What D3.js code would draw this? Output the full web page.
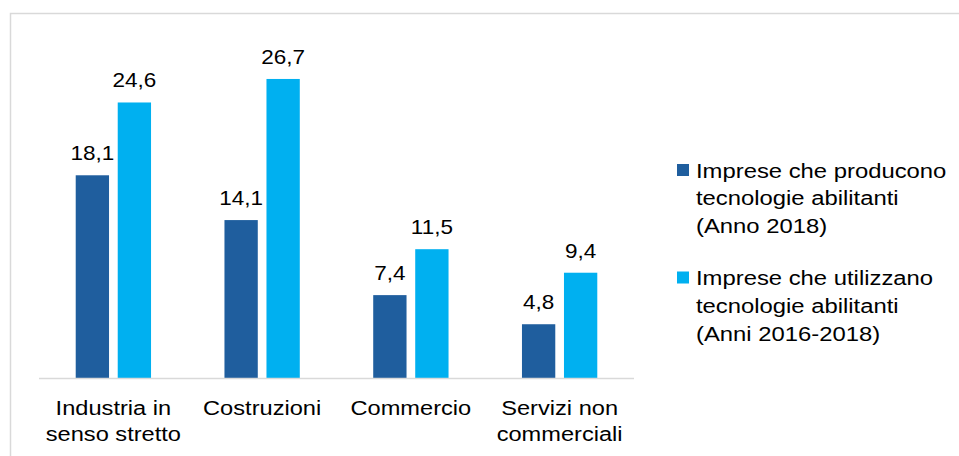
<!DOCTYPE html>
<html>
<head>
<meta charset="utf-8">
<script src="https://cdn.jsdelivr.net/npm/d3@7"></script>
<style>
  body { margin: 0; background: #fff; }
  svg { font-family: "Liberation Sans", Arial, sans-serif; }
</style>
</head>
<body>
<svg id="chart" width="959" height="456"></svg>
<script>
const categories = [["Industria in", "senso stretto"], ["Costruzioni"], ["Commercio"], ["Servizi non", "commerciali"]];
const producono = [18.1, 14.1, 7.4, 4.8];
const utilizzano = [24.6, 26.7, 11.5, 9.4];
const seriesNames = [
    ["Imprese che producono", "tecnologie abilitanti", "(Anno 2018)"],
    ["Imprese che utilizzano", "tecnologie abilitanti", "(Anni 2016-2018)"]
];
const colors = ["#1F5E9E", "#00B0F0"];

const svg = d3.select("#chart"),
      margin = {left: 39, right: 325, top: 42, bottom: 78},
      width = 959, height = 456,
      stretch = 1.125; // text in the original looks wider than Arial

// frame
svg.append("rect")
    .attr("x", 10.5).attr("y", 13.5)
    .attr("width", 960).attr("height", 460)
    .attr("fill", "none")
    .attr("stroke", "#D9D9D9")
    .attr("stroke-width", 1.5);

const keys = categories.map((c, i) => i);
const data = keys.map(i => [producono[i], utilizzano[i]]);

const x0 = d3.scaleBand()
    .domain(keys)
    .range([margin.left, width - margin.right]);

const x1 = d3.scaleBand()
    .domain([0, 1])
    .range([0, x0.bandwidth()])
    .paddingInner(0.207)
    .paddingOuter(0.874);

const y = d3.scaleLinear()
    .domain([0, 30])
    .range([height - margin.bottom, margin.top]);

const fmt = v => d3.format(".1f")(v).replace(".", ",");

const groups = svg.selectAll("g.group")
    .data(data)
    .join("g")
    .attr("class", "group")
    .attr("transform", (d, i) => `translate(${x0(i)},0)`);

groups.selectAll("rect")
    .data(d => d)
    .join("rect")
    .attr("x", (d, j) => x1(j))
    .attr("y", d => y(d))
    .attr("width", x1.bandwidth())
    .attr("height", d => y(0) - y(d))
    .attr("fill", (d, j) => colors[j]);

groups.selectAll("text.val")
    .data(d => d)
    .join("text")
    .attr("class", "val")
    .attr("transform", (d, j) => `translate(${x1(j) + x1.bandwidth() / 2},${y(d) - 15}) scale(${stretch},1)`)
    .attr("text-anchor", "middle")
    .attr("font-size", 20)
    .attr("fill", "#000")
    .text(d => fmt(d));

// baseline
svg.append("line")
    .attr("x1", margin.left).attr("x2", width - margin.right)
    .attr("y1", y(0) + 0.5).attr("y2", y(0) + 0.5)
    .attr("stroke", "#D9D9D9")
    .attr("stroke-width", 1.5);

// category labels
const catText = svg.selectAll("text.cat")
    .data(categories)
    .join("text")
    .attr("class", "cat")
    .attr("transform", (d, i) => `translate(${x0(i) + x0.bandwidth() / 2},0) scale(${stretch},1)`)
    .attr("text-anchor", "middle")
    .attr("font-size", 21)
    .attr("fill", "#000");

catText.selectAll("tspan")
    .data(d => d)
    .join("tspan")
    .attr("x", 0)
    .attr("y", (d, k) => 415 + k * 26.5)
    .text(d => d);

// legend
const legend = svg.selectAll("g.legend")
    .data(seriesNames)
    .join("g")
    .attr("class", "legend")
    .attr("transform", (d, i) => `translate(677,${164 + i * 107.5})`);

legend.append("rect")
    .attr("width", 12).attr("height", 12)
    .attr("fill", (d, i) => colors[i]);

legend.append("text")
    .attr("transform", `translate(19,0) scale(${stretch + 0.01},1)`)
    .attr("font-size", 21)
    .attr("fill", "#000")
    .selectAll("tspan")
    .data(d => d)
    .join("tspan")
    .attr("x", 0)
    .attr("y", (d, k) => 13.7 + k * 27.7)
    .text(d => d);
</script>
</body>
</html>
